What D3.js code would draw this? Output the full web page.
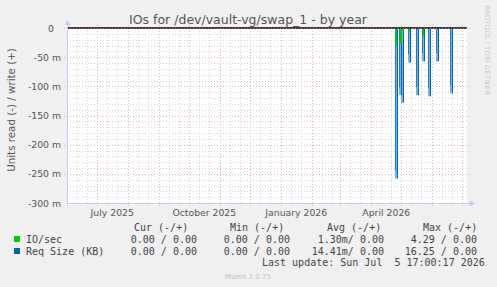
<!DOCTYPE html>
<html><head><meta charset="utf-8">
<script src="https://cdn.jsdelivr.net/npm/d3@7"></script>
<style>body{margin:0;background:#f0f0f0} svg{display:block} text{white-space:pre}</style>
</head><body><svg id="c" width="497" height="287"></svg>
<script>
// ---- data ----
const title = "IOs for /dev/vault-vg/swap_1 - by year";
const yAxisLabel = "Units read (-) / write (+)";
const startTime = new Date(2025, 4, 31, 17, 0, 17);
const endTime = new Date(2026, 6, 5, 17, 0, 17);
const yTickValues = [0, -50, -100, -150, -200, -250, -300]; // milli-units
const yTickLabels = ["0", "-50 m", "-100 m", "-150 m", "-200 m", "-250 m", "-300 m"];
const xLabelTexts = ["July 2025", "October 2025", "January 2026", "April 2026"];
const xLabelDates = ["2025-07-16", "2025-10-16", "2026-01-16", "2026-04-16"];
const ioDates = ["2026-04-25", "2026-04-30", "2026-05-08", "2026-05-22"];
const ioRead = [-30, -27, -6, -13];
const reqDates = ["2026-04-25", "2026-04-29", "2026-05-01", "2026-05-08", "2026-05-16", "2026-05-22", "2026-05-28", "2026-06-05", "2026-06-19"];
const reqRead = [-258, -115, -128, -59, -115, -57, -117, -57, -112];
const legendNames = ["IO/sec", "Req Size (KB)"];
const legendColors = ["#00cc00", "#0066b3"];
const curVals = ["0.00 / 0.00", "0.00 / 0.00"];
const minVals = ["0.00 / 0.00", "0.00 / 0.00"];
const avgVals = ["1.30m/ 0.00", "14.41m/ 0.00"];
const maxVals = ["4.29 / 0.00", "16.25 / 0.00"];
const headers = ["Cur (-/+)", "Min (-/+)", "Avg (-/+)", "Max (-/+)"];
const lastUpdate = "Last update: Sun Jul  5 17:00:17 2026";
const footer = "Munin 2.0.75";
const sideText = "RRDTOOL / TOBI OETIKER";

// ---- chart ----
const svg = d3.select("#c");
const L = 67, R = 467, T = 28, B = 203;
const parse = d3.timeParse("%Y-%m-%d");
const x = d3.scaleTime().domain([startTime, endTime]).range([L, R]);
const y = d3.scaleLinear().domain([-300, 0]).range([B, T]);
const sans = "DejaVu Sans, sans-serif", mono = "DejaVu Sans Mono, monospace";

svg.append("rect").attr("x", L).attr("y", T).attr("width", R - L).attr("height", B - T).attr("fill", "#ffffff");

// minor grid
const minorX = d3.timeDay.range(startTime, endTime).filter(d => [11, 21].includes(d.getDate()));
const g = svg.append("g").attr("shape-rendering", "crispEdges");
g.selectAll(".vx").data(minorX).join("line")
  .attr("x1", d => Math.round(x(d)) + 0.5).attr("x2", d => Math.round(x(d)) + 0.5)
  .attr("y1", T).attr("y2", B).attr("stroke", "#d8d8d8").attr("stroke-dasharray", "1,2");
const minorY = d3.range(-290, 0, 10).filter(v => v % 50 !== 0);
g.selectAll(".hy").data(minorY).join("line")
  .attr("x1", L).attr("x2", R).attr("y1", d => Math.round(y(d)) + 0.5).attr("y2", d => Math.round(y(d)) + 0.5)
  .attr("stroke", "#d8d8d8").attr("stroke-dasharray", "1,2");
// major grid
const majorX = d3.timeMonth.range(startTime, endTime);
g.selectAll(".mx").data(majorX).join("line")
  .attr("x1", d => Math.round(x(d)) + 0.5).attr("x2", d => Math.round(x(d)) + 0.5)
  .attr("y1", T - 3).attr("y2", B + 3).attr("stroke", "#eab4b4").attr("stroke-dasharray", "1,2");
g.selectAll(".my").data(yTickValues.filter(v => v !== -300)).join("line")
  .attr("x1", L - 3).attr("x2", R + 3).attr("y1", d => Math.round(y(d)) + 0.5).attr("y2", d => Math.round(y(d)) + 0.5)
  .attr("stroke", "#eab4b4").attr("stroke-dasharray", "1,2");

// Req size spikes (blue)
const reqData = reqDates.map((d, i) => ({ t: d3.timeHour.offset(parse(d), 12), v: reqRead[i] }));
const ioData = ioDates.map((d, i) => ({ t: d3.timeHour.offset(parse(d), 12), v: ioRead[i] }));
svg.selectAll(".rb").data(reqData).join("rect")
  .attr("x", d => Math.round(x(d.t)) - 1).attr("y", y(0)).attr("width", 3)
  .attr("height", d => y(d.v) - y(0)).attr("fill", "#7eb0dc");
svg.selectAll(".rl").data(reqData).join("line")
  .attr("x1", d => Math.round(x(d.t)) + 1.5).attr("x2", d => Math.round(x(d.t)) + 1.5)
  .attr("y1", y(0)).attr("y2", d => y(d.v)).attr("stroke", "#0066b3").attr("stroke-width", 1);
svg.selectAll(".rl2").data(reqData).join("line")
  .attr("x1", d => Math.round(x(d.t)) - 0.5).attr("x2", d => Math.round(x(d.t)) - 0.5)
  .attr("y1", y(0)).attr("y2", d => y(d.v) - 8).attr("stroke", "#0066b3").attr("stroke-width", 1).attr("opacity", 0.7);
// IO spikes (green)
svg.selectAll(".io").data(ioData).join("rect")
  .attr("x", d => Math.round(x(d.t)) - 1).attr("y", y(0)).attr("width", 2)
  .attr("height", d => y(d.v) - y(0)).attr("fill", "#00cc00");

// zero line
svg.append("line").attr("x1", L).attr("x2", R).attr("y1", y(0)).attr("y2", y(0))
  .attr("stroke", "#000").attr("stroke-width", 1.5);
svg.append("line").attr("x1", L).attr("x2", R).attr("y1", y(0) + 0.5).attr("y2", y(0) + 0.5)
  .attr("stroke", "#e06060").attr("stroke-dasharray", "1,2").attr("shape-rendering", "crispEdges");

// axes
const ax = "#c8c8f0";
svg.append("line").attr("x1", L + 0.5).attr("x2", L + 0.5).attr("y1", B).attr("y2", T - 4).attr("stroke", ax);
svg.append("path").attr("d", `M${L - 2.5},${T - 3}L${L + 3.5},${T - 3}L${L + 0.5},${T - 8}Z`).attr("fill", ax);
svg.append("line").attr("x1", L).attr("x2", R + 4).attr("y1", B + 0.5).attr("y2", B + 0.5).attr("stroke", ax);
svg.append("path").attr("d", `M${R + 3},${B - 2.5}L${R + 3},${B + 3.5}L${R + 8},${B + 0.5}Z`).attr("fill", ax);

// y tick labels
svg.selectAll(".yt").data(yTickValues).join("text")
  .attr("x", (d, i) => i === 0 ? 54 : 61).attr("y", d => y(d) + 3.5).attr("text-anchor", "end")
  .attr("font-family", sans).attr("font-size", 9.3).attr("fill", "#555")
  .text((d, i) => yTickLabels[i]);
// x labels
svg.selectAll(".xt").data(xLabelDates).join("text")
  .attr("x", d => x(parse(d))).attr("y", 215.5).attr("text-anchor", "middle")
  .attr("font-family", sans).attr("font-size", 9.3).attr("fill", "#555")
  .text((d, i) => xLabelTexts[i]);

// title
svg.append("text").attr("x", 248).attr("y", 23.5).attr("text-anchor", "middle")
  .attr("font-family", sans).attr("font-size", 12.5).attr("fill", "#555").text(title);
// y label
svg.append("text").attr("transform", "translate(15,110) rotate(-90)").attr("text-anchor", "middle")
  .attr("font-family", sans).attr("font-size", 10.3).attr("fill", "#555").text(yAxisLabel);
// side text
svg.append("text").attr("transform", "translate(485,5) rotate(90)").attr("text-anchor", "start")
  .attr("font-family", sans).attr("font-size", 7).attr("fill", "#c8c8c8").text(sideText);

// legend
const lg = svg.append("g").attr("font-family", mono).attr("font-size", 10).attr("fill", "#444");
const hx = [134, 230, 327, 423];
headers.forEach((h, i) => lg.append("text").attr("x", hx[i]).attr("y", 230.5).text(h));
const rowY = [242.5, 254.5];
legendNames.forEach((n, i) => {
  lg.append("rect").attr("x", 14).attr("y", rowY[i] - 6.5).attr("width", 6).attr("height", 6).attr("fill", legendColors[i]);
  lg.append("text").attr("x", 26).attr("y", rowY[i]).text(n);
  lg.append("text").attr("x", 197).attr("y", rowY[i]).attr("text-anchor", "end").text(curVals[i]);
  lg.append("text").attr("x", 290).attr("y", rowY[i]).attr("text-anchor", "end").text(minVals[i]);
  lg.append("text").attr("x", 384).attr("y", rowY[i]).attr("text-anchor", "end").text(avgVals[i]);
  lg.append("text").attr("x", 477).attr("y", rowY[i]).attr("text-anchor", "end").text(maxVals[i]);
});
lg.append("text").attr("x", 262).attr("y", 266).text(lastUpdate);
svg.append("text").attr("x", 248).attr("y", 279).attr("text-anchor", "middle")
  .attr("font-family", sans).attr("font-size", 7).attr("fill", "#c0c0c0").text(footer);
</script></body></html>
